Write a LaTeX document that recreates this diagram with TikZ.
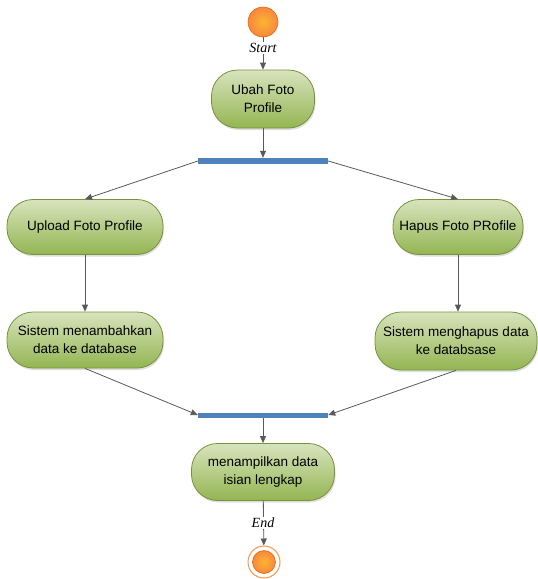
\documentclass[tikz,border=0pt]{standalone}
\usepackage{fontspec}
\setmainfont{Liberation Sans}
\newfontfamily\labelfont{Liberation Serif}
\usetikzlibrary{arrows.meta,shadows}
\definecolor{actborder}{HTML}{76923C}
\definecolor{acttop}{HTML}{D7E4BD}
\definecolor{actbot}{HTML}{94B552}
\definecolor{barblue}{HTML}{4F81BD}
\definecolor{arrowgray}{HTML}{595959}
\definecolor{orangefill}{HTML}{F79646}
\definecolor{orangedark}{HTML}{E46C0A}
\tikzset{
  actbox/.style={draw=actborder, line width=0.8pt, top color=acttop, bottom color=actbot,
    rounded corners=26pt, align=center, font=\fontsize{13.5}{18}\selectfont,
    inner sep=2pt, drop shadow={opacity=0.25, shadow xshift=1pt, shadow yshift=-2pt}},
  flow/.style={draw=arrowgray, line width=0.8pt, -{Triangle[length=7pt,width=6pt]}},
  syncbar/.style={fill=barblue, draw=none, inner sep=0pt},
  steplabel/.style={font=\labelfont\itshape\fontsize{14}{16}\selectfont, fill=white, inner sep=1pt},
  startdot/.style={circle, draw=orangedark, line width=0.6pt, inner color=orangefill!70!yellow, outer color=orangefill!90!red, minimum size=30pt, inner sep=0pt},
}
\begin{document}
\begin{tikzpicture}[x=1pt,y=-1pt]
\useasboundingbox (0,0) rectangle (538,579);
% start
\node[startdot] (start) at (263,22) {};
% actions
\node[actbox, minimum width=103pt, minimum height=58pt] (ubah) at (263,99) {Ubah Foto\\Profile};
\node[syncbar, minimum width=130pt, minimum height=6pt] (fork) at (263,161) {};
\node[actbox, minimum width=156pt, minimum height=55pt] (upload) at (85,227) {Upload Foto Profile};
\node[actbox, minimum width=130pt, minimum height=55pt] (hapus) at (458,227) {Hapus Foto PRofile};
\node[actbox, minimum width=156pt, minimum height=56pt] (tambah) at (85,340) {Sistem menambahkan\\data ke database};
\node[actbox, minimum width=162pt, minimum height=58pt] (hapusdb) at (456,341) {Sistem menghapus data\\ke databsase};
\node[syncbar, minimum width=130pt, minimum height=5pt] (join) at (263,415) {};
\node[actbox, minimum width=143pt, minimum height=57pt] (tampil) at (263,472) {menampilkan data\\isian lengkap};
% end
\node[circle, draw=orangefill, line width=1pt, fill=white, minimum size=32pt, inner sep=0pt] (endring) at (264,562) {};
\node[startdot, minimum size=23pt] (enddot) at (264,562) {};
% connectors
\draw[flow] (start) -- (ubah);
\node[steplabel] (startlbl) at (263,48) {Start};
\draw[flow] (ubah) -- (fork);
\draw[flow] (fork.west) -- (upload.north);
\draw[flow] (fork.east) -- (hapus.north);
\draw[flow] (upload) -- (tambah);
\draw[flow] (hapus.south) -- (hapus.south |- hapusdb.north);
\draw[flow] (tambah.south) -- (join.west);
\draw[flow] (hapusdb.south) -- (join.east);
\draw[flow] (join) -- (tampil);
\draw[flow] (tampil) -- (endring);
\node[steplabel] (endlbl) at (263,523) {End};
\end{tikzpicture}
\end{document}
